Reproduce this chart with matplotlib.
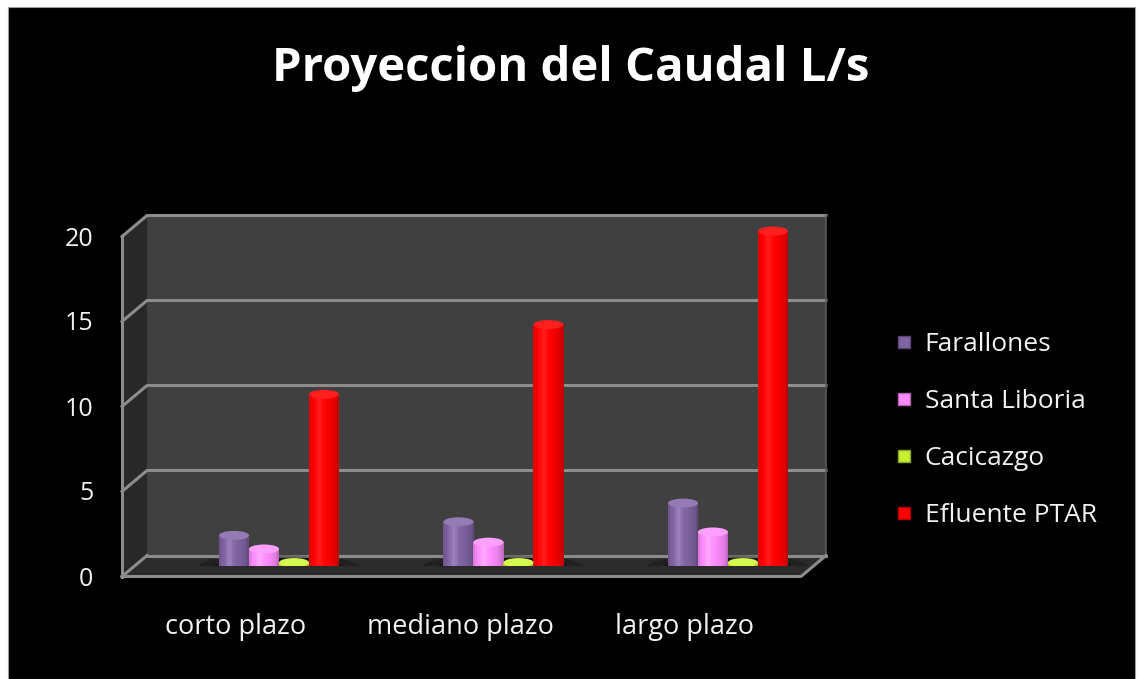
import matplotlib
matplotlib.use("Agg")
import matplotlib.pyplot as plt
import numpy as np
from matplotlib.patches import Rectangle, Polygon, Ellipse
from matplotlib.lines import Line2D
import matplotlib.transforms as mtransforms
from matplotlib.colors import to_rgb

# ---------------- data ----------------
categories = ["corto plazo", "mediano plazo", "largo plazo"]
series_names = ["Farallones", "Santa Liboria", "Cacicazgo", "Efluente PTAR"]
farallones = [1.8, 2.6, 3.7]
santa_liboria = [1.0, 1.4, 2.0]
cacicazgo = [0.2, 0.2, 0.2]
efluente = [10.1, 14.2, 19.7]
yticks = [0, 5, 10, 15, 20]
title = "Proyeccion del Caudal L/s"
series_values = [farallones, santa_liboria, cacicazgo, efluente]
colors = ["#8064A2", "#FF8CFF", "#C8F032", "#FF0000"]

FONT = "Open Sans"
TXT = "#F2F2F2"

W, H = 1143, 679
fig = plt.figure(figsize=(W / 100, H / 100), dpi=100)
fig.patch.set_facecolor("white")
fig.add_artist(Rectangle((8 / W, 0), (1135 - 8) / W, (679 - 7) / H,
                         transform=fig.transFigure, facecolor="black",
                         edgecolor="#9a9a9a", linewidth=0.8, zorder=0))

# axes = plane in which the cylinders stand (mid depth)
left_px, right_px, top_px, bot_px = 134.5, 813.5, 226, 566
ax = fig.add_axes([left_px / W, 1 - bot_px / H, (right_px - left_px) / W,
                   (bot_px - top_px) / H])
ax.set_zorder(3)
ax.axis("off")
ax.set_xlim(-0.644, 2.381)
ax.set_ylim(0, 20)

DX, DY = 12.5, 10.5  # half depth offset (px): back = +, front = -


def P(axx, y, depth):
    """axes-x, data-y, depth(+1 back, -1 front) -> display px"""
    tr = mtransforms.blended_transform_factory(ax.transAxes, ax.transData)
    px, py = tr.transform((axx, y))
    return (px + depth * DX, py + depth * DY)


ident = mtransforms.IdentityTransform()
grid_col = "#8c8c8c"

# back wall
back = Polygon([P(0, 0, 1), P(1, 0, 1), P(1, 20, 1), P(0, 20, 1)],
               closed=True, facecolor="#404040", edgecolor="none",
               transform=ident, clip_on=False, zorder=0.5)
ax.add_patch(back)
# side wall
side = Polygon([P(0, 0, 1), P(0, 20, 1), P(0, 20, -1), P(0, 0, -1)],
               closed=True, facecolor="#282828", edgecolor="none",
               transform=ident, clip_on=False, zorder=0.5)
ax.add_patch(side)
# floor
floor = Polygon([P(0, 0, 1), P(1, 0, 1), P(1, 0, -1), P(0, 0, -1)],
                closed=True, facecolor="#2b2b2b", edgecolor="none",
                transform=ident, clip_on=False, zorder=0.6)
ax.add_patch(floor)

for v in yticks:
    pts = [P(0, v, -1), P(0, v, 1), P(1, v, 1)]
    if v == 0:
        pts = [P(0, v, 1), P(1, v, 1)]
    ax.add_line(Line2D([p[0] for p in pts], [p[1] for p in pts],
                       transform=ident, color=grid_col, lw=2.2,
                       clip_on=False, zorder=0.55 if v else 0.7))
# left slanted line at floor, front edges
for pts in ([P(0, 0, -1), P(0, 0, 1)],
            [P(0, 0, -1), P(1, 0, -1), P(1, 0, 1)],
            [P(0, 0, -1), P(0, 20, -1)]):
    ax.add_line(Line2D([p[0] for p in pts], [p[1] for p in pts],
                       transform=ident, color=grid_col, lw=2.2,
                       clip_on=False, zorder=0.8))
# right edge of back wall
pts = [P(1, 0, 1), P(1, 20, 1)]
ax.add_line(Line2D([p[0] for p in pts], [p[1] for p in pts],
                   transform=ident, color="#5a5a5a", lw=1.2,
                   clip_on=False, zorder=0.55))

# ---------------- cylinders ----------------
n_ser = len(series_values)
bw = 0.1336
ell_h = 9 / 17.0
x = np.arange(len(categories))

# soft shadows under each group
for i in x:
    for sc, a in ((1.0, 0.25), (0.8, 0.3), (0.6, 0.35)):
        ax.add_patch(Ellipse((i, -0.05), bw * 5.4 * sc, 1.4 * sc,
                             facecolor="black", alpha=a, edgecolor="none",
                             zorder=1))

n_strips = 18
for s, (vals, col) in enumerate(zip(series_values, colors)):
    base = np.array(to_rgb(col))
    offs = (s - (n_ser - 1) / 2) * bw
    for i, v in enumerate(vals):
        xc = x[i] + offs
        # bottom rounding
        ax.add_patch(Ellipse((xc, 0), bw, ell_h, facecolor=base * 0.8,
                             edgecolor="none", zorder=2))
        for k in range(n_strips):
            t = -1 + (k + 0.5) * 2 / n_strips
            nz = np.sqrt(max(0.0, 1 - t * t))
            light = 0.62 + 0.38 * nz ** 0.6 - 0.06 * t
            c = np.clip(base * light + 0.10 * np.exp(-((t + 0.3) / 0.25) ** 2), 0, 1)
            sw = bw / n_strips
            ax.bar(xc - bw / 2 + (k + 0.5) * sw, v, width=sw * 1.05,
                   color=c, edgecolor="none", zorder=2.1)
        cap = np.clip(base * 0.92 + 0.12, 0, 1)
        ax.add_patch(Ellipse((xc, v), bw, ell_h, facecolor=cap,
                             edgecolor="none", zorder=2.2))

# ---------------- text ----------------
tr_y = mtransforms.blended_transform_factory(ax.transAxes, ax.transData) + \
    mtransforms.ScaledTranslation(-41 / 100, -13 / 100, fig.dpi_scale_trans)
for v in yticks:
    ax.text(0, v, str(v), transform=tr_y, ha="right", va="center",
            color=TXT, fontsize=18, family=FONT, clip_on=False)

tr_x = ax.transData + mtransforms.ScaledTranslation(-43 / 100, -61 / 100,
                                                    fig.dpi_scale_trans)
for i, lab in enumerate(categories):
    ax.text(i, 0, lab, transform=tr_x, ha="center", va="center",
            color=TXT, fontsize=19.5, family=FONT, clip_on=False)

fig.text(571 / W, 1 - 69 / H, title, ha="center", va="center",
         color="white", fontsize=34, fontweight="bold", family=FONT)

handles = [Line2D([], [], linestyle="none", marker="s", markersize=8.5,
                  markerfacecolor=c, markeredgecolor=tuple(np.array(to_rgb(c)) * 0.7),
                  markeredgewidth=1) for c in colors]
leg = fig.legend(handles, series_names, loc="upper left",
                 bbox_to_anchor=(880 / W, 1 - 319 / H), frameon=False,
                 handlelength=0.8, handletextpad=0.4, labelspacing=1.21,
                 borderpad=0, prop={"family": FONT, "size": 19})
for t in leg.get_texts():
    t.set_color(TXT)

fig.savefig("out.png", dpi=100, facecolor=fig.get_facecolor())
